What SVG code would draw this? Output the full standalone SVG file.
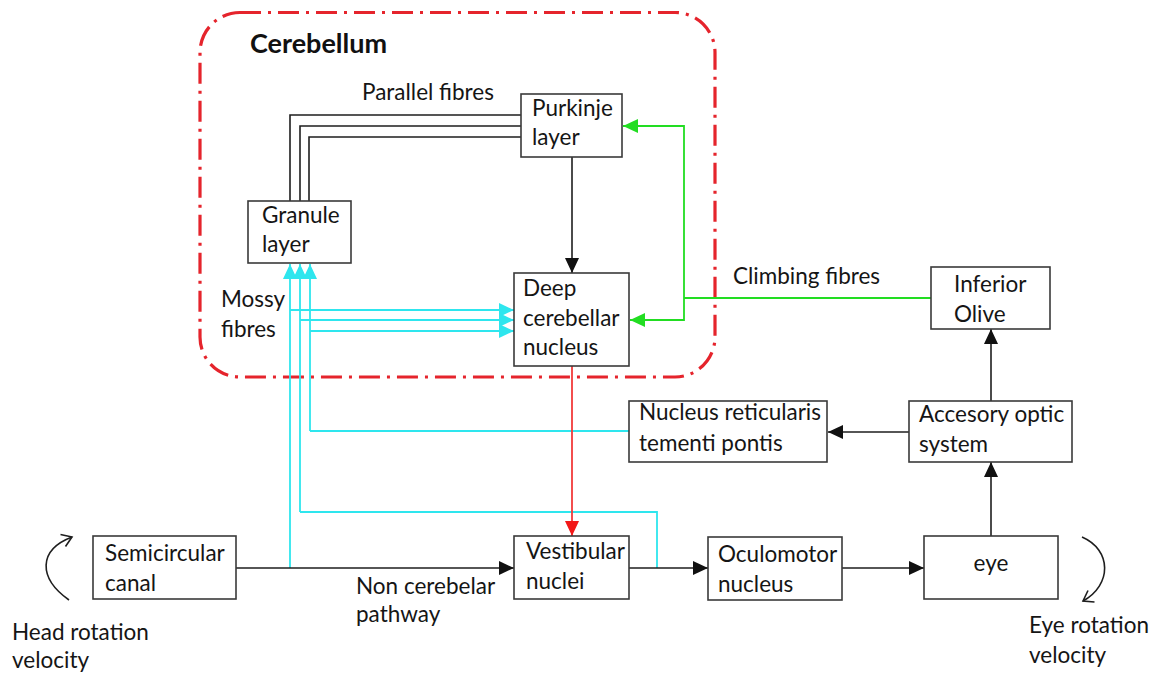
<svg xmlns="http://www.w3.org/2000/svg" width="1154" height="675" viewBox="0 0 1154 675">
  <style>
    .box { fill: #ffffff; stroke: #3a3a3a; stroke-width: 1.6; }
    .lbl { font-family: Lato, "Liberation Sans", sans-serif; font-size: 22.5px; fill: #151515; }
    .title { font-family: Lato, "Liberation Sans", sans-serif; font-size: 27px; font-weight: bold; fill: #111111; }
    .blk { fill: none; stroke: #1e1e1e; stroke-width: 1.6; }
    .cyan { fill: none; stroke: #2ee6ee; stroke-width: 1.8; }
    .green { fill: none; stroke: #22dd22; stroke-width: 1.8; }
    .red { fill: none; stroke: #f23a3a; stroke-width: 1.8; }
    .region { fill: none; stroke: #e5242c; stroke-width: 3.2; stroke-dasharray: 21 7 3 7; }
  </style>
  <defs>
    <marker id="ah-black" markerUnits="userSpaceOnUse" markerWidth="15" markerHeight="14" refX="15" refY="7" orient="auto">
      <path d="M0,0 L15,7 L0,14 z" fill="#111111"/>
    </marker>
    <marker id="ah-cyan" markerUnits="userSpaceOnUse" markerWidth="15" markerHeight="14" refX="15" refY="7" orient="auto">
      <path d="M0,0 L15,7 L0,14 z" fill="#2ee6ee"/>
    </marker>
    <marker id="ah-green" markerUnits="userSpaceOnUse" markerWidth="15" markerHeight="14" refX="15" refY="7" orient="auto">
      <path d="M0,0 L15,7 L0,14 z" fill="#22dd22"/>
    </marker>
    <marker id="ah-red" markerUnits="userSpaceOnUse" markerWidth="15" markerHeight="14" refX="15" refY="7" orient="auto">
      <path d="M0,0 L15,7 L0,14 z" fill="#f21818"/>
    </marker>
  </defs>

  <rect width="1154" height="675" fill="#ffffff"/>

  <!-- cerebellum region -->
  <g id="cerebellum">
    <rect class="region" x="200" y="12.5" width="515" height="364.5" rx="40" ry="40"/>
    <text class="title" x="250" y="53">Cerebellum</text>
  </g>

  <!-- connectors -->
  <g id="connectors">
    <!-- parallel fibres -->
    <polyline class="blk" points="290,201 290,115 521,115"/>
    <polyline class="blk" points="300,201 300,126 521,126"/>
    <polyline class="blk" points="309,201 309,137 521,137"/>

    <!-- purkinje to deep nucleus -->
    <line class="blk" x1="572" y1="157" x2="572" y2="273" marker-end="url(#ah-black)"/>

    <!-- mossy fibres -->
    <line class="cyan" x1="290" y1="568" x2="290" y2="264" marker-end="url(#ah-cyan)"/>
    <line class="cyan" x1="300" y1="512" x2="300" y2="264" marker-end="url(#ah-cyan)"/>
    <line class="cyan" x1="310" y1="431" x2="310" y2="264" marker-end="url(#ah-cyan)"/>
    <line class="cyan" x1="290" y1="310" x2="514" y2="310" marker-end="url(#ah-cyan)"/>
    <line class="cyan" x1="300" y1="320" x2="514" y2="320" marker-end="url(#ah-cyan)"/>
    <line class="cyan" x1="310" y1="331" x2="514" y2="331" marker-end="url(#ah-cyan)"/>
    <polyline class="cyan" points="629,431 310,431"/>
    <polyline class="cyan" points="657,568 657,512 300,512"/>

    <!-- climbing fibres -->
    <polyline class="green" points="931,298 684,298"/>
    <polyline class="green" points="684,298 684,126 623,126" marker-end="url(#ah-green)"/>
    <polyline class="green" points="684,298 684,320 630,320" marker-end="url(#ah-green)"/>

    <!-- deep nucleus to vestibular nuclei -->
    <line class="red" x1="572" y1="366" x2="572" y2="536" marker-end="url(#ah-red)"/>

    <!-- main pathway -->
    <line class="blk" x1="236" y1="568" x2="514" y2="568" marker-end="url(#ah-black)"/>
    <line class="blk" x1="629" y1="568" x2="708" y2="568" marker-end="url(#ah-black)"/>
    <line class="blk" x1="842" y1="568" x2="924" y2="568" marker-end="url(#ah-black)"/>
    <line class="blk" x1="991" y1="536" x2="991" y2="462" marker-end="url(#ah-black)"/>
    <line class="blk" x1="991" y1="401" x2="991" y2="329" marker-end="url(#ah-black)"/>
    <line class="blk" x1="909" y1="432" x2="828" y2="432" marker-end="url(#ah-black)"/>

    <!-- rotation arrows -->
    <path class="blk" d="M69,600 C38,578 38,550 72,537"/>
    <polyline class="blk" points="60.5,534.5 72,537 65.5,546.5"/>
    <path class="blk" d="M1082,537 C1112,550 1112,585 1083,601"/>
    <polyline class="blk" points="1094.5,602 1083,601 1088,590.5"/>
  </g>

  <!-- nodes -->
  <g id="purkinje">
    <rect class="box" x="521" y="94" width="101" height="63"/>
    <text class="lbl" x="532" y="116">Purkinje</text>
    <text class="lbl" x="532" y="145">layer</text>
  </g>
  <g id="granule">
    <rect class="box" x="248" y="201" width="103" height="62"/>
    <text class="lbl" x="262" y="223">Granule</text>
    <text class="lbl" x="262" y="252">layer</text>
  </g>
  <g id="deep-nucleus">
    <rect class="box" x="514" y="273" width="115" height="93"/>
    <text class="lbl" x="523" y="296">Deep</text>
    <text class="lbl" x="523" y="326">cerebellar</text>
    <text class="lbl" x="523" y="355">nucleus</text>
  </g>
  <g id="inferior-olive">
    <rect class="box" x="931" y="267" width="119" height="62"/>
    <text class="lbl" x="954" y="292">Inferior</text>
    <text class="lbl" x="954" y="322">Olive</text>
  </g>
  <g id="nrtp">
    <rect class="box" x="629" y="401" width="198" height="61"/>
    <text class="lbl" x="639" y="420">Nucleus reticularis</text>
    <text class="lbl" x="639" y="451">tementi pontis</text>
  </g>
  <g id="accessory-optic">
    <rect class="box" x="909" y="401" width="163" height="61"/>
    <text class="lbl" x="919" y="422">Accesory optic</text>
    <text class="lbl" x="919" y="452">system</text>
  </g>
  <g id="semicircular">
    <rect class="box" x="93" y="536" width="143" height="63"/>
    <text class="lbl" x="105" y="561">Semicircular</text>
    <text class="lbl" x="105" y="591">canal</text>
  </g>
  <g id="vestibular">
    <rect class="box" x="514" y="536" width="115" height="63"/>
    <text class="lbl" x="526" y="559">Vestibular</text>
    <text class="lbl" x="526" y="589">nuclei</text>
  </g>
  <g id="oculomotor">
    <rect class="box" x="708" y="537" width="134" height="63"/>
    <text class="lbl" x="718" y="562">Oculomotor</text>
    <text class="lbl" x="718" y="592">nucleus</text>
  </g>
  <g id="eye">
    <rect class="box" x="924" y="536" width="134" height="63"/>
    <text class="lbl" x="991" y="571" text-anchor="middle">eye</text>
  </g>

  <!-- free labels -->
  <g id="labels">
    <text class="lbl" x="362" y="100">Parallel fibres</text>
    <text class="lbl" x="221" y="307">Mossy</text>
    <text class="lbl" x="221" y="337">fibres</text>
    <text class="lbl" x="733" y="284">Climbing fibres</text>
    <text class="lbl" x="356" y="594">Non cerebelar</text>
    <text class="lbl" x="356" y="622">pathway</text>
    <text class="lbl" x="12" y="640">Head rotation</text>
    <text class="lbl" x="12" y="668">velocity</text>
    <text class="lbl" x="1029" y="633">Eye rotation</text>
    <text class="lbl" x="1029" y="663">velocity</text>
  </g>
</svg>
